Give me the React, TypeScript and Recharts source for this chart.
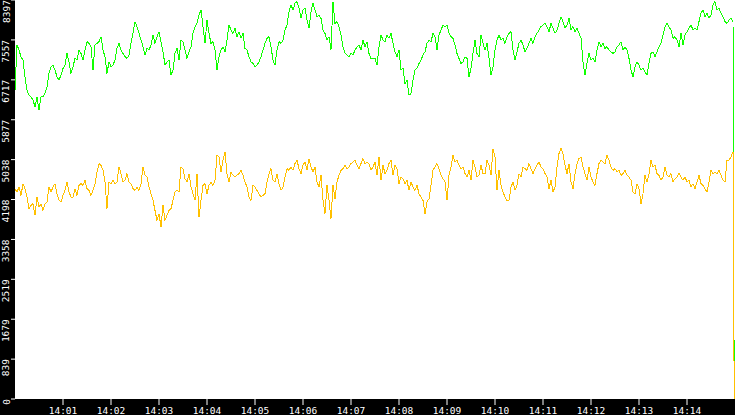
import React from 'react';
import { LineChart, Line, XAxis, YAxis, CartesianGrid } from 'recharts';

// one sample every 2.5 s from 14:00:00, last sample is the drop to zero
const stepSec = 2.5;
const endSec = 899;

const greenSeries = [
  6500, 7449, 7343, 7203, 7133, 6781, 6500, 6394, 6359, 6289, 6148, 6359, 6078, 6359, 6359, 6430, 6570, 6851, 6992, 7027,
  6922, 6781, 6711, 6816, 6957, 7027, 7273, 7097, 6851, 6992, 7168, 7133, 7343, 7273, 7133, 7343, 7519, 7484, 7414, 6922,
  7449, 7484, 7519, 7625, 7343, 7203, 6851, 7097, 6992, 7027, 7133, 7379, 7484, 7343, 7273, 7203, 7168, 7238, 7484, 7695,
  7941, 7836, 7695, 7554, 7414, 7238, 7379, 7343, 7449, 7660, 7484, 7625, 7730, 7519, 7308, 7027, 7097, 7133, 6816, 6922,
  7273, 7379, 7133, 7554, 7519, 7343, 7168, 7308, 7414, 7695,
  7836, 7906, 8082, 8187, 7836, 7484, 7976, 7695, 7484, 7519, 7343, 6922, 7203, 7343, 7414, 7308, 7554, 7871, 7765, 7695,
  7801, 7625, 7730, 7590, 7695, 7379, 7343, 7203, 7097, 7062, 6992, 7027, 7097, 7203, 7343, 7484, 7590, 7625, 7414, 7133,
  7027, 7343, 7519, 7484, 7554, 7765, 7871, 8152, 8292, 8187, 8328, 8363, 8222, 8011, 8187, 8222, 7976, 7801, 8152, 8328,
  8187, 8046, 8082, 8011, 7765, 7695, 7554, 7625, 7343, 8363, 7906, 7941, 7836, 7660, 7414, 7273, 7238, 7203, 7273, 7238,
  7343, 7414, 7449, 7343, 7554, 7414, 7519, 7273, 7168, 7168,
  7168, 7027, 7414, 7660, 7554, 7519, 7660, 7590, 7695, 7484, 7308, 7203, 7343, 6922, 6957, 6640, 6711, 6394, 6430, 6711,
  6922, 6957, 7062, 7133, 7238, 7308, 7484, 7554, 7519, 7695, 7625, 7343, 7660, 7765, 7871, 7836, 7871, 7695, 7625, 7590,
  7449, 7273, 7168, 7062, 7097, 7203, 7168, 6781, 6957, 7273, 7554, 7273, 7203, 7660, 7484, 7343, 7484, 7168, 6816, 6992,
  7343, 7554, 7660, 7554, 7590, 7484, 7625, 7695, 7730, 7343, 7133, 7308, 7484, 7554, 7449, 7308, 7379, 7484, 7590, 7484,
  7625, 7695, 7765, 7836, 7871, 7906, 7836, 7730, 7906, 7801,
  7695, 7765, 7906, 8046, 7941, 7801, 7871, 8011, 7765, 7836, 7730, 7801, 7695, 7590, 7097, 6816, 7062, 7273, 7133, 7168,
  7097, 7343, 7519, 7414, 7484, 7379, 7414, 7343, 7308, 7273, 7308, 7414, 7449, 7519, 7343, 7414, 7343, 7168, 6922, 6781,
  6992, 7097, 7027, 6922, 6957, 6887, 6816, 7062, 7273, 7308, 7203, 7308, 7414, 7484, 7660, 7836, 7906, 7836, 7765, 7590,
  7625, 7554, 7414, 7695, 7449, 7660, 7730, 7801, 7871, 7765, 7801, 7765, 7941, 8117, 8187, 8046, 8117, 8011, 8082, 8292,
  8363, 8187, 8222, 8117, 8046, 7941, 7906, 7976, 8011, 7941,
  0,
];

const amberSeries = [
  4426, 4356, 4461, 4285, 4531, 4426, 4250, 4004, 4074, 4110, 3864, 4250, 4039, 4110, 3969, 4110, 4145, 4461, 4356, 4461,
  4531, 4321, 4180, 4145, 4285, 4391, 4567, 4356, 4250, 4250, 4426, 4285, 4496, 4531, 4496, 4602, 4426, 4391, 4285, 4391,
  4531, 4778, 4954, 4918, 4813, 4567, 4004, 4567, 4531, 4602, 4531, 4567, 4883, 4743, 4567, 4602, 4743, 4567, 4531, 4426,
  4391, 4461, 4391, 4531, 4883, 4708, 4672, 4461, 4321, 4180, 3969, 3758, 3899, 3618, 4074, 3758, 3864, 3969, 4004, 4180,
  4356, 4391, 4356, 4883, 4848, 4637, 4567, 4743, 4461, 4321,
  4180, 4743, 3828, 4180, 4496, 4531, 4321, 4496, 4567, 4496, 4602, 5129, 5094, 4778, 5024, 5199, 4743, 4567, 4778, 4708,
  4672, 4708, 4743, 4813, 4708, 4567, 4461, 4250, 4180, 4496, 4461, 4391, 4321, 4250, 4285, 4321, 4567, 4743, 4848, 4602,
  4567, 4743, 4531, 4391, 4461, 4672, 4848, 4813, 4883, 4813, 4954, 5024, 4848, 4743, 4918, 4989, 4813, 5059, 4883, 4778,
  4883, 4567, 4461, 4708, 4180, 3899, 4496, 4180, 3793, 4496, 4215, 4567, 4708, 4813, 4848, 4918, 4848, 4883, 4954, 4989,
  5024, 4918, 4848, 4954, 5059, 4954, 4989, 4954, 4813, 4883,
  4989, 4708, 5094, 4602, 4918, 4743, 4813, 4954, 5024, 4708, 4918, 4848, 4531, 4672, 4637, 4531, 4602, 4391, 4567, 4461,
  4391, 4496, 4321, 4250, 4180, 3899, 4145, 4215, 4496, 4813, 4883, 4954, 4848, 4708, 4637, 4567, 4180, 4708, 4883, 5129,
  4989, 5024, 4918, 4848, 4883, 4743, 4672, 4813, 4602, 5024, 4883, 4672, 4708, 4918, 4743, 4743, 5024, 4918, 4708, 5270,
  5094, 4391, 4813, 4496, 4356, 4250, 4180, 4180, 4461, 4567, 4391, 4496, 4743, 4672, 4883, 4848, 4813, 4954, 4848, 4743,
  4848, 4918, 4989, 4883, 4848, 4743, 4672, 4426, 4602, 4356,
  4461, 4883, 5164, 5270, 5164, 4918, 4743, 4954, 4567, 4426, 4743, 4954, 5059, 5094, 4883, 4743, 4602, 4883, 4672, 4567,
  4496, 4743, 4954, 5024, 4989, 4954, 5129, 5024, 4883, 4813, 4848, 4778, 4813, 4708, 4743, 4813, 4708, 4672, 4602, 4356,
  4321, 4531, 4426, 4110, 4321, 4708, 4567, 4743, 5024, 4883, 4918, 4743, 4708, 4602, 4672, 4883, 4708, 4672, 4743, 4567,
  4637, 4672, 4743, 4672, 4602, 4672, 4567, 4602, 4461, 4531, 4426, 4567, 4708, 4531, 4496, 4426, 4356, 4567, 4813, 4743,
  4778, 4743, 4813, 4708, 4602, 4567, 5024, 5024, 5094, 5199,
  0,
];

const yTicks = [0, 839, 1679, 2519, 3358, 4198, 5038, 5877, 6717, 7557, 8397];
const xTickLabels = ['14:01', '14:02', '14:03', '14:04', '14:05', '14:06', '14:07', '14:08', '14:09', '14:10', '14:11', '14:12', '14:13', '14:14'];
const xTicks = xTickLabels.map((_, i) => (i + 1) * 60);

const data = greenSeries.map((g, i) => ({
  t: i === greenSeries.length - 1 ? endSec : i * stepSec,
  green: g,
  amber: amberSeries[i],
}));

const FONT = '"DejaVu Sans Mono", monospace';

function YTick({ x, y, payload }: any) {
  return (
    <text
      x={x - 1.5}
      y={y}
      transform={`rotate(-90, ${x - 1.5}, ${y})`}
      textAnchor="end"
      fill="#fff"
      fontSize={9.5}
      fontFamily={FONT}
    >
      {payload.value}
    </text>
  );
}

function XTick({ x, y, payload }: any) {
  const idx = xTicks.indexOf(payload.value);
  return (
    <text x={x} y={y + 8.5} textAnchor="middle" fill="#fff" fontSize={9.5} fontFamily={FONT}>
      {xTickLabels[idx]}
    </text>
  );
}

export default function App() {
  return (
    <div style={{ position: 'fixed', left: 0, top: 0, width: 735, height: 415, background: '#000' }}>
      <LineChart width={735} height={415} data={data} margin={{ top: 0, right: 0, bottom: 0, left: 0 }}>
        <CartesianGrid horizontal={false} vertical={false} fill="#fff" stroke="none" />
        <XAxis
          dataKey="t"
          type="number"
          domain={[0, 900]}
          ticks={xTicks}
          interval={0}
          height={16}
          axisLine={false}
          tickSize={6}
          tickMargin={0}
          tickLine={{ stroke: '#fff' }}
          tick={<XTick />}
        />
        <YAxis
          domain={[0, 8397]}
          ticks={yTicks}
          interval={0}
          width={15}
          axisLine={false}
          tickSize={4}
          tickMargin={0}
          tickLine={{ stroke: '#fff' }}
          tick={<YTick />}
        />
        <Line
          dataKey="green"
          type="linear"
          stroke="#11ff00"
          strokeWidth={1}
          dot={false}
          shapeRendering="crispEdges"
          isAnimationActive={false}
        />
        <Line
          dataKey="amber"
          type="linear"
          stroke="#ffc000"
          strokeWidth={1}
          dot={false}
          shapeRendering="crispEdges"
          isAnimationActive={false}
        />
      </LineChart>
    </div>
  );
}
